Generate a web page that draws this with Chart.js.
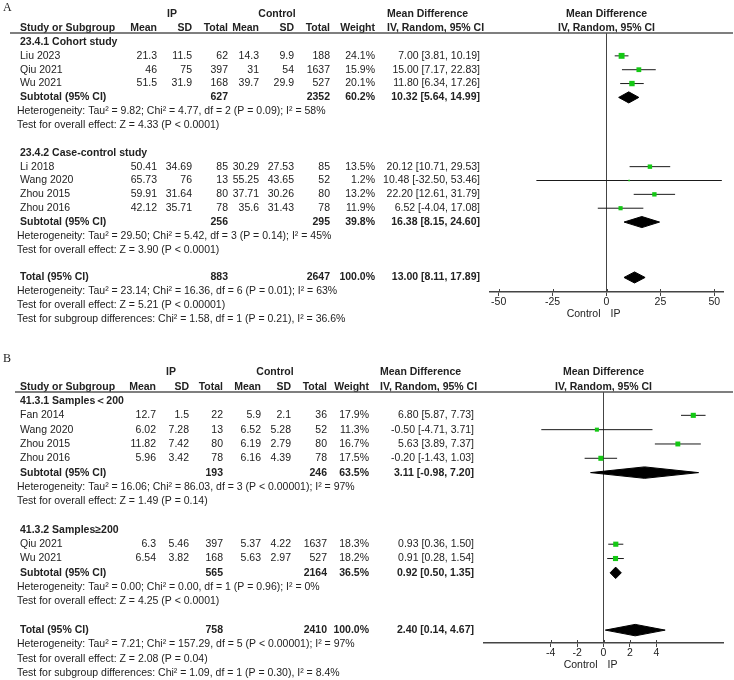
<!DOCTYPE html>
<html>
<head>
<meta charset="utf-8">
<script src="https://cdn.jsdelivr.net/npm/chart.js@4.4.1/dist/chart.umd.min.js"></script>
<style>
  body { margin: 0; background: #fff; }
  #wrap { position: relative; width: 734px; height: 680px; }
  canvas { position: absolute; left: 0; }
  #chartA { top: 0; }
  #chartB { top: 335px; }
</style>
</head>
<body>
<div id="wrap">
  <canvas id="chartA" width="734" height="335"></canvas>
  <canvas id="chartB" width="734" height="345"></canvas>
</div>
<script>
// ---------- panel A ----------
const studyA = ["Liu 2023", "Qiu 2021", "Wu 2021", "Li 2018", "Wang 2020", "Zhou 2015", "Zhou 2016"];
const groupOfA = [0, 0, 0, 1, 1, 1, 1];
const ipMeanA = [21.3, 46, 51.5, 50.41, 65.73, 59.91, 42.12];
const ipSdA = [11.5, 75, 31.9, 34.69, 76, 31.64, 35.71];
const ipNA = [62, 397, 168, 85, 13, 80, 78];
const ctlMeanA = [14.3, 31, 39.7, 30.29, 55.25, 37.71, 35.6];
const ctlSdA = [9.9, 54, 29.9, 27.53, 43.65, 30.26, 31.43];
const ctlNA = [188, 1637, 527, 85, 52, 80, 78];
const weightA = [24.1, 15.9, 20.1, 13.5, 1.2, 13.2, 11.9];
const mdA = [7.00, 15.00, 11.80, 20.12, 10.48, 22.20, 6.52];
const loA = [3.81, 7.17, 6.34, 10.71, -32.50, 12.61, -4.04];
const hiA = [10.19, 22.83, 17.26, 29.53, 53.46, 31.79, 17.08];

const subNameA = ["23.4.1 Cohort study", "23.4.2 Case-control study"];
const subIpNA = [627, 256];
const subCtlNA = [2352, 295];
const subWeightA = [60.2, 39.8];
const subMdA = [10.32, 16.38];
const subLoA = [5.64, 8.15];
const subHiA = [14.99, 24.60];
const subHetA = [
  "Heterogeneity: Tau² = 9.82; Chi² = 4.77, df = 2 (P = 0.09); I² = 58%",
  "Heterogeneity: Tau² = 29.50; Chi² = 5.42, df = 3 (P = 0.14); I² = 45%"
];
const subTestA = [
  "Test for overall effect: Z = 4.33 (P < 0.0001)",
  "Test for overall effect: Z = 3.90 (P < 0.0001)"
];
const totalNA = [883, 2647];
const totalCiA = [13.00, 8.11, 17.89];
const totalNotesA = [
  "Heterogeneity: Tau² = 23.14; Chi² = 16.36, df = 6 (P = 0.01); I² = 63%",
  "Test for overall effect: Z = 5.21 (P < 0.00001)",
  "Test for subgroup differences: Chi² = 1.58, df = 1 (P = 0.21), I² = 36.6%"
];
const ticksA = [-50, -25, 0, 25, 50];

// ---------- panel B ----------
const studyB = ["Fan 2014", "Wang 2020", "Zhou 2015", "Zhou 2016", "Qiu 2021", "Wu 2021"];
const groupOfB = [0, 0, 0, 0, 1, 1];
const ipMeanB = [12.7, 6.02, 11.82, 5.96, 6.3, 6.54];
const ipSdB = [1.5, 7.28, 7.42, 3.42, 5.46, 3.82];
const ipNB = [22, 13, 80, 78, 397, 168];
const ctlMeanB = [5.9, 6.52, 6.19, 6.16, 5.37, 5.63];
const ctlSdB = [2.1, 5.28, 2.79, 4.39, 4.22, 2.97];
const ctlNB = [36, 52, 80, 78, 1637, 527];
const weightB = [17.9, 11.3, 16.7, 17.5, 18.3, 18.2];
const mdB = [6.80, -0.50, 5.63, -0.20, 0.93, 0.91];
const loB = [5.87, -4.71, 3.89, -1.43, 0.36, 0.28];
const hiB = [7.73, 3.71, 7.37, 1.03, 1.50, 1.54];

const subNameB = ["41.3.1 Samples＜200", "41.3.2 Samples≥200"];
const subIpNB = [193, 565];
const subCtlNB = [246, 2164];
const subWeightB = [63.5, 36.5];
const subMdB = [3.11, 0.92];
const subLoB = [-0.98, 0.50];
const subHiB = [7.20, 1.35];
const subHetB = [
  "Heterogeneity: Tau² = 16.06; Chi² = 86.03, df = 3 (P < 0.00001); I² = 97%",
  "Heterogeneity: Tau² = 0.00; Chi² = 0.00, df = 1 (P = 0.96); I² = 0%"
];
const subTestB = [
  "Test for overall effect: Z = 1.49 (P = 0.14)",
  "Test for overall effect: Z = 4.25 (P < 0.0001)"
];
const totalNB = [758, 2410];
const totalCiB = [2.40, 0.14, 4.67];
const totalNotesB = [
  "Heterogeneity: Tau² = 7.21; Chi² = 157.29, df = 5 (P < 0.00001); I² = 97%",
  "Test for overall effect: Z = 2.08 (P = 0.04)",
  "Test for subgroup differences: Chi² = 1.09, df = 1 (P = 0.30), I² = 8.4%"
];
const ticksB = [-4, -2, 0, 2, 4];

const axisWords = ["Control", "IP"];
const headCols = ["Mean", "SD", "Total", "Mean", "SD", "Total", "Weight"];

// ---------- styles ----------
const FAMILY = '"Liberation Sans", Arial, sans-serif';
const REG = "10.5px " + FAMILY;
const BOLD = "bold 10.5px " + FAMILY;
const LETTER = '12px "Liberation Serif", "Times New Roman", serif';
const TEXT = "#222";
const GREEN = "#14c814";

const panelA = {
  letter: "A", studies: studyA, groupOf: groupOfA, ipMean: ipMeanA, ipSd: ipSdA, ipN: ipNA,
  ctlMean: ctlMeanA, ctlSd: ctlSdA, ctlN: ctlNA, weight: weightA, md: mdA, lo: loA, hi: hiA,
  subName: subNameA, subIpN: subIpNA, subCtlN: subCtlNA, subWeight: subWeightA,
  subMd: subMdA, subLo: subLoA, subHi: subHiA, subHet: subHetA, subTest: subTestA,
  totalN: totalNA, totalCi: totalCiA, totalNotes: totalNotesA, ticks: ticksA,
  cols: [157, 192, 228, 259, 294, 330, 375], ciRight: 480, ciHeadX: 387,
  ipCenter: 172, ctlCenter: 277, letterY: 8, topY: 14, headY: 28, lineX: 10,
  areaTop: 33, areaLeft: 490, areaRight: 723, axisH: 43,
  rowMin: -0.65, rowMax: 18.05, xMin: -54, xMax: 54
};

const panelB = {
  letter: "B", studies: studyB, groupOf: groupOfB, ipMean: ipMeanB, ipSd: ipSdB, ipN: ipNB,
  ctlMean: ctlMeanB, ctlSd: ctlSdB, ctlN: ctlNB, weight: weightB, md: mdB, lo: loB, hi: hiB,
  subName: subNameB, subIpN: subIpNB, subCtlN: subCtlNB, subWeight: subWeightB,
  subMd: subMdB, subLo: subLoB, subHi: subHiB, subHet: subHetB, subTest: subTestB,
  totalN: totalNB, totalCi: totalCiB, totalNotes: totalNotesB, ticks: ticksB,
  cols: [156, 189, 223, 261, 291, 327, 369], ciRight: 474, ciHeadX: 380,
  ipCenter: 171, ctlCenter: 275, letterY: 24, topY: 37, headY: 52, lineX: 15,
  areaTop: 57, areaLeft: 484, areaRight: 723, axisH: 37,
  rowMin: -0.63, rowMax: 16.9, xMin: -9.05, xMax: 9.05
};

// row index of each line of the table
function layoutRows(groupOf, nGroups) {
  let r = 0;
  const title = [], study = [], sub = [];
  for (let g = 0; g < nGroups; g++) {
    title.push(r++);
    groupOf.forEach((gg, i) => { if (gg === g) study[i] = r++; });
    sub.push(r);
    r += 4; // subtotal, heterogeneity, test, blank
  }
  return { title, study, sub, total: r };
}

function ciText(m, l, h) {
  return m.toFixed(2) + " [" + l.toFixed(2) + ", " + h.toFixed(2) + "]";
}

function diamond(m, l, h, row, label) {
  const hh = 0.4;
  return {
    type: "line", label: label, order: 0,
    data: [{ x: l, y: row }, { x: m, y: row - hh }, { x: h, y: row }, { x: m, y: row + hh }, { x: l, y: row }],
    borderColor: "#000", backgroundColor: "#000", borderWidth: 1,
    pointRadius: 0, fill: "shape", tension: 0
  };
}

function drawTable(chart, p, rows) {
  const c = chart.ctx, area = chart.chartArea;
  const ry = r => chart.scales.y.getPixelForValue(r);
  const xs = chart.scales.x;
  const zero = xs.getPixelForValue(0);
  const txt = (s, x, y, align, font) => { c.font = font; c.textAlign = align; c.fillText(String(s), x, y); };

  c.save();
  c.fillStyle = TEXT;
  c.textBaseline = "middle";
  txt(p.letter, 3, p.letterY, "left", LETTER);

  // header
  txt("IP", p.ipCenter, p.topY, "center", BOLD);
  txt("Control", p.ctlCenter, p.topY, "center", BOLD);
  txt("Mean Difference", p.ciHeadX, p.topY, "left", BOLD);
  txt("IV, Random, 95% CI", p.ciHeadX, p.headY, "left", BOLD);
  txt("Mean Difference", zero, p.topY, "center", BOLD);
  txt("IV, Random, 95% CI", zero, p.headY, "center", BOLD);
  txt("Study or Subgroup", 20, p.headY, "left", BOLD);
  headCols.forEach((h, i) => txt(h, p.cols[i], p.headY, "right", BOLD));
  c.strokeStyle = "#555";
  c.lineWidth = 1.5;
  c.beginPath();
  c.moveTo(p.lineX, area.top);
  c.lineTo(733, area.top);
  c.stroke();

  // studies
  p.studies.forEach((s, i) => {
    const y = ry(rows.study[i]);
    txt(s, 20, y, "left", REG);
    const vals = [p.ipMean[i], p.ipSd[i], p.ipN[i], p.ctlMean[i], p.ctlSd[i], p.ctlN[i], p.weight[i].toFixed(1) + "%"];
    vals.forEach((v, k) => txt(v, p.cols[k], y, "right", REG));
    txt(ciText(p.md[i], p.lo[i], p.hi[i]), p.ciRight, y, "right", REG);
  });

  // subgroups
  p.subName.forEach((name, g) => {
    txt(name, 20, ry(rows.title[g]), "left", BOLD);
    const y = ry(rows.sub[g]);
    txt("Subtotal (95% CI)", 20, y, "left", BOLD);
    txt(p.subIpN[g], p.cols[2], y, "right", BOLD);
    txt(p.subCtlN[g], p.cols[5], y, "right", BOLD);
    txt(p.subWeight[g].toFixed(1) + "%", p.cols[6], y, "right", BOLD);
    txt(ciText(p.subMd[g], p.subLo[g], p.subHi[g]), p.ciRight, y, "right", BOLD);
    txt(p.subHet[g], 17, ry(rows.sub[g] + 1), "left", REG);
    txt(p.subTest[g], 17, ry(rows.sub[g] + 2), "left", REG);
  });

  // total
  const yt = ry(rows.total);
  txt("Total (95% CI)", 20, yt, "left", BOLD);
  txt(p.totalN[0], p.cols[2], yt, "right", BOLD);
  txt(p.totalN[1], p.cols[5], yt, "right", BOLD);
  txt("100.0%", p.cols[6], yt, "right", BOLD);
  txt(ciText(p.totalCi[0], p.totalCi[1], p.totalCi[2]), p.ciRight, yt, "right", BOLD);
  p.totalNotes.forEach((n, k) => txt(n, 17, ry(rows.total + 1 + k), "left", REG));

  // small tick stubs above the axis line, and side labels
  c.strokeStyle = "#444";
  c.lineWidth = 1;
  p.ticks.forEach(v => {
    const x = Math.round(xs.getPixelForValue(v)) + 0.5;
    c.beginPath();
    c.moveTo(x, area.bottom - 3);
    c.lineTo(x, area.bottom);
    c.stroke();
  });
  txt(axisWords[0], zero - 6, area.bottom + 22, "right", REG);
  txt(axisWords[1], zero + 4, area.bottom + 22, "left", REG);
  c.restore();
}

function makePanel(p) {
  const rows = layoutRows(p.groupOf, p.subName.length);
  const datasets = [];

  datasets.push({
    type: "scatter", label: "studies", order: 0,
    data: p.studies.map((s, i) => ({ x: p.md[i], y: rows.study[i] })),
    pointStyle: "rect",
    pointRadius: p.weight.map(w => Math.max(1.2, 0.85 * Math.sqrt(w))),
    backgroundColor: GREEN, borderColor: GREEN, borderWidth: 0
  });
  p.studies.forEach((s, i) => {
    datasets.push({
      type: "line", label: s + " CI", order: 1,
      data: [{ x: p.lo[i], y: rows.study[i] }, { x: p.hi[i], y: rows.study[i] }],
      borderColor: "#1a1a1a", borderWidth: 1, pointRadius: 0, fill: false
    });
  });
  p.subName.forEach((name, g) => {
    datasets.push(diamond(p.subMd[g], p.subLo[g], p.subHi[g], rows.sub[g], name));
  });
  datasets.push(diamond(p.totalCi[0], p.totalCi[1], p.totalCi[2], rows.total, "Total"));

  new Chart(document.getElementById(p.canvas || ("chart" + p.letter)), {
    type: "scatter",
    data: { datasets: datasets },
    options: {
      responsive: false,
      animation: false,
      layout: {
        autoPadding: false,
        padding: { left: p.areaLeft, right: 734 - p.areaRight, top: p.areaTop, bottom: 0 }
      },
      plugins: { legend: { display: false }, tooltip: { enabled: false } },
      scales: {
        x: {
          type: "linear", min: p.xMin, max: p.xMax,
          afterBuildTicks: s => { s.ticks = p.ticks.map(v => ({ value: v })); },
          afterFit: s => { s.height = p.axisH; },
          border: { color: "#444", width: 1.5 },
          grid: {
            drawOnChartArea: true,
            color: ctx => (ctx.tick && ctx.tick.value === 0 ? "#444" : "rgba(0,0,0,0)"),
            lineWidth: 1, tickLength: 4, tickColor: "#444"
          },
          ticks: {
            font: { family: FAMILY, size: 10.5 }, color: TEXT, padding: 0,
            maxRotation: 0, autoSkip: false, callback: v => String(v)
          }
        },
        y: { type: "linear", display: false, reverse: true, min: p.rowMin, max: p.rowMax }
      }
    },
    plugins: [{ id: "forestText", afterDraw: chart => drawTable(chart, p, rows) }]
  });
}

makePanel(panelA);
makePanel(panelB);
</script>
</body>
</html>
